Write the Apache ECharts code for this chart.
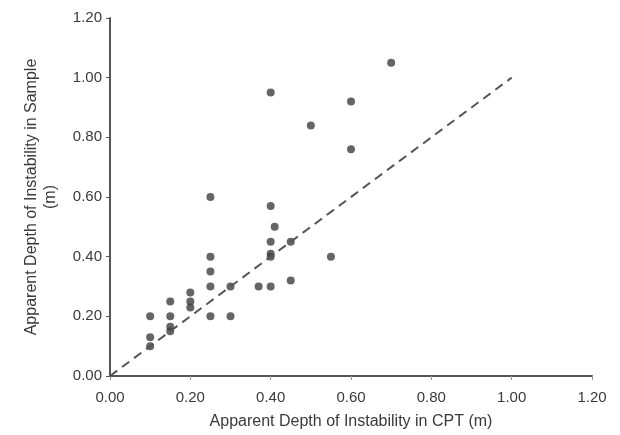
<!DOCTYPE html>
<html>
<head>
<meta charset="utf-8">
<script src="https://cdn.jsdelivr.net/npm/echarts@6/dist/echarts.min.js"></script>
<style>
html,body{margin:0;padding:0;background:#fff;}
#chart{width:620px;height:435px;}
</style>
</head>
<body>
<div id="chart"></div>
<script>
// Apparent depth of instability in CPT (m)
var cptDepth = [0.70, 0.40, 0.60, 0.50, 0.60, 0.25, 0.40, 0.41, 0.40, 0.45, 0.40, 0.40, 0.55, 0.25, 0.25, 0.25, 0.30, 0.37, 0.40, 0.45, 0.20, 0.20, 0.20, 0.15, 0.10, 0.15, 0.15, 0.15, 0.10, 0.10, 0.25, 0.30];
// Apparent depth of instability in sample (m)
var sampleDepth = [1.05, 0.95, 0.92, 0.84, 0.76, 0.60, 0.57, 0.50, 0.45, 0.45, 0.41, 0.40, 0.40, 0.40, 0.35, 0.30, 0.30, 0.30, 0.30, 0.32, 0.28, 0.25, 0.23, 0.25, 0.20, 0.20, 0.165, 0.15, 0.13, 0.10, 0.20, 0.20];
// 1:1 reference line
var lineX = [0, 1.0];
var lineY = [0, 1.0];
var tickValues = [0, 0.2, 0.4, 0.6, 0.8, 1.0, 1.2];

var points = cptDepth.map(function (x, i) { return [x, sampleDepth[i]]; });
var linePts = lineX.map(function (x, i) { return [x, lineY[i]]; });

var chart = echarts.init(document.getElementById('chart'), null, {renderer: 'canvas'});
var font = 'Liberation Sans, Arial, sans-serif';
chart.setOption({
  backgroundColor: '#ffffff',
  animation: false,
  grid: {left: 110, right: 28, top: 18, bottom: 59},
  xAxis: {
    type: 'value', min: 0, max: 1.2, interval: 0.2,
    name: 'Apparent Depth of Instability in CPT (m)',
    nameLocation: 'middle', nameGap: 38,
    nameTextStyle: {fontFamily: font, fontSize: 16, color: '#3a3a3a'},
    axisLine: {show: true, lineStyle: {color: '#555', width: 2}},
    axisTick: {show: true, length: 4, lineStyle: {color: '#999'}},
    axisLabel: {fontFamily: font, fontSize: 15, color: '#3a3a3a', margin: 14,
      formatter: function (v) { return v.toFixed(2); }},
    splitLine: {show: false}
  },
  yAxis: {
    type: 'value', min: 0, max: 1.2, interval: 0.2,
    name: 'Apparent Depth of Instability in Sample\n(m)',
    nameLocation: 'middle', nameGap: 50,
    nameTextStyle: {fontFamily: font, fontSize: 16, color: '#3a3a3a', lineHeight: 19, align: 'center'},
    axisLine: {show: true, lineStyle: {color: '#555', width: 2}},
    axisTick: {show: true, length: 4, lineStyle: {color: '#555'}},
    axisLabel: {fontFamily: font, fontSize: 15, color: '#3a3a3a', margin: 8,
      formatter: function (v) { return v.toFixed(2); }},
    splitLine: {show: false}
  },
  series: [
    {
      type: 'line', data: linePts, symbol: 'none', silent: true,
      lineStyle: {color: '#555', width: 2, type: [9, 6]}
    },
    {
      type: 'scatter', data: points, symbol: 'circle', symbolSize: 8,
      itemStyle: {color: '#3f3f3f'}
    }
  ]
});
</script>
</body>
</html>
